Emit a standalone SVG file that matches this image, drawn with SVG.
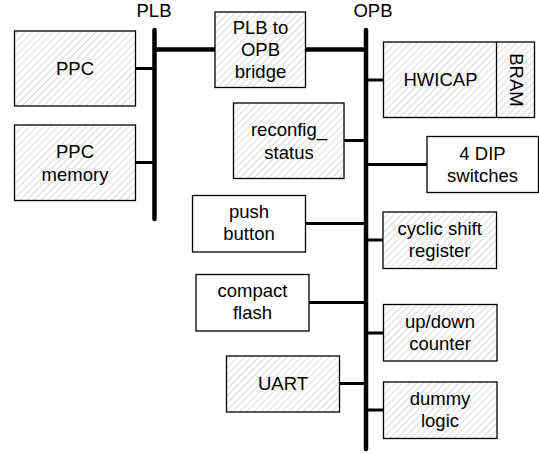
<svg xmlns="http://www.w3.org/2000/svg" width="539" height="453" viewBox="0 0 539 453">
<defs>
<pattern id="hatch" patternUnits="userSpaceOnUse" width="5" height="5" patternTransform="rotate(45)">
<rect width="5" height="5" fill="#fff"/>
<line x1="0" y1="0" x2="0" y2="5" stroke="#b8b8b8" stroke-width="1"/>
</pattern>
</defs>
<style>
text{font-family:"Liberation Sans",Arial,sans-serif;font-size:18.5px;fill:#000;text-anchor:middle}
.h{fill:url(#hatch);stroke:#000;stroke-width:1.3}
.w{fill:#fff;stroke:#000;stroke-width:1.3}
.bus{stroke:#000;stroke-width:4.5;stroke-linecap:round;fill:none}
.c{stroke:#000;stroke-width:3;fill:none}
.cb{stroke:#000;stroke-width:4.5;fill:none}
</style>
<rect width="539" height="453" fill="#fff"/>
<g id="connectors">
<line class="bus" x1="154.5" y1="30" x2="154.5" y2="219"/>
<line class="bus" x1="366" y1="30" x2="366" y2="449"/>
<line class="cb" x1="154.5" y1="49.5" x2="215" y2="49.5"/>
<line class="cb" x1="305.5" y1="49.5" x2="366" y2="49.5"/>
<line class="c" x1="135" y1="68.5" x2="154.5" y2="68.5"/>
<line class="c" x1="135" y1="162.5" x2="154.5" y2="162.5"/>
<line class="c" x1="366" y1="80" x2="383" y2="80"/>
<line class="c" x1="344" y1="140.5" x2="366" y2="140.5"/>
<line class="c" x1="366" y1="164.5" x2="427" y2="164.5"/>
<line class="c" x1="305.5" y1="223.5" x2="366" y2="223.5"/>
<line class="c" x1="366" y1="240" x2="383" y2="240"/>
<line class="c" x1="309" y1="302.5" x2="366" y2="302.5"/>
<line class="c" x1="366" y1="333" x2="383" y2="333"/>
<line class="c" x1="339" y1="383.5" x2="366" y2="383.5"/>
<line class="c" x1="366" y1="410" x2="383" y2="410"/>
</g>
<g id="plb-label"><text x="154" y="17">PLB</text></g>
<g id="opb-label"><text x="373" y="17">OPB</text></g>
<g id="ppc"><rect class="h" x="14.5" y="31" width="121" height="75"/><text x="75" y="75">PPC</text></g>
<g id="ppc-memory"><rect class="h" x="14.5" y="125" width="121" height="75.5"/><text x="75" y="158">PPC</text><text x="75" y="181">memory</text></g>
<g id="bridge"><rect class="h" x="215" y="12" width="90.5" height="75.5"/><text x="260.5" y="34">PLB to</text><text x="260.5" y="56">OPB</text><text x="260.5" y="78">bridge</text></g>
<g id="hwicap"><rect class="h" x="383.5" y="42" width="151" height="75.5"/><line x1="496.5" y1="42" x2="496.5" y2="117.5" stroke="#000" stroke-width="1.3"/><text x="440.5" y="86">HWICAP</text><text x="0" y="0" transform="translate(509.5,80) rotate(90)">BRAM</text></g>
<g id="reconfig-status"><rect class="h" x="233.5" y="103" width="110.5" height="75.5"/><text x="289" y="136">reconfig_</text><text x="289" y="159">status</text></g>
<g id="dip-switches"><rect class="w" x="427" y="136.5" width="111.5" height="56"/><text x="482.5" y="160">4 DIP</text><text x="482.5" y="182">switches</text></g>
<g id="push-button"><rect class="w" x="192.5" y="195.5" width="113" height="56.5"/><text x="249" y="218">push</text><text x="249" y="240">button</text></g>
<g id="cyclic-shift"><rect class="h" x="383" y="212" width="113.5" height="56.5"/><text x="439.7" y="235">cyclic shift</text><text x="439.7" y="257">register</text></g>
<g id="compact-flash"><rect class="w" x="196" y="274.5" width="113" height="56.5"/><text x="252.5" y="297">compact</text><text x="252.5" y="319">flash</text></g>
<g id="updown-counter"><rect class="h" x="383.5" y="304.5" width="113.5" height="56.5"/><text x="440" y="328">up/down</text><text x="440" y="350">counter</text></g>
<g id="uart"><rect class="h" x="226.5" y="356" width="113" height="56"/><text x="283" y="390">UART</text></g>
<g id="dummy-logic"><rect class="h" x="383.5" y="382" width="113.5" height="56.5"/><text x="440" y="405">dummy</text><text x="440" y="427">logic</text></g>
</svg>
